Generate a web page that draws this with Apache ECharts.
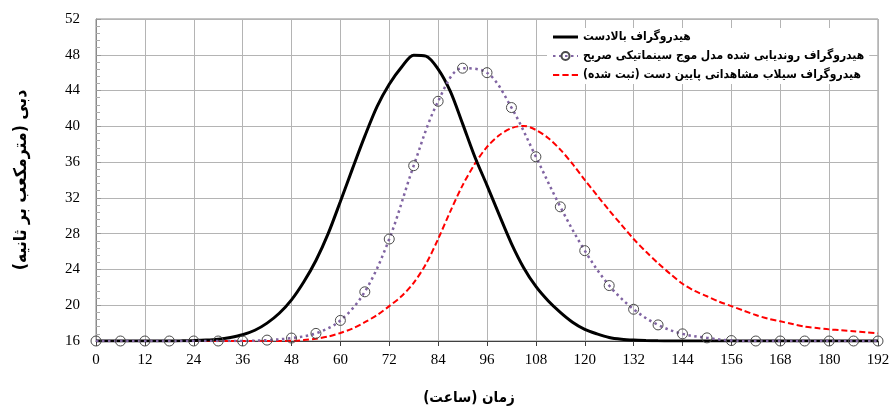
<!DOCTYPE html>
<html>
<head>
<meta charset="utf-8">
<script src="https://cdn.jsdelivr.net/npm/echarts@6/dist/echarts.min.js"></script>
<style>html,body{margin:0;padding:0;background:#fff}#c{width:893px;height:410px}</style>
</head>
<body>
<div id="c"></div>
<script>
const RLM = '\u200F';
const xTicks = [0, 192, 12];
const yTicks = [16, 52, 4];
const seriesNames = [
  'هیدروگراف بالادست',
  'هیدروگراف روندیابی شده مدل موج سینماتیکی صریح',
  'هیدروگراف سیلاب مشاهداتی پایین دست (ثبت شده)'
];
const xName = 'زمان (ساعت)';
const yName = 'دبی (مترمکعب بر ثانیه)';

// upstream hydrograph (black)
const hoursUp = [0,3,6,9,12,15,18,21,24,27,30,33,36,39,42,45,48,51,54,57,60,63,66,69,72,75,78,81,84,87,90,93,96,99,102,105,108,111,114,117,120,123,126,129,132,135,138,141,144,150,156,162,168,174,180,186,192];
const flowUp  = [16,16,16,16,16,16,16.01,16.02,16.05,16.1,16.2,16.4,16.7,17.2,18.0,19.1,20.6,22.6,25.0,28.0,31.6,35.3,38.9,42.2,44.7,46.6,47.95,47.85,46.4,43.9,40.3,36.6,33.4,30.1,26.9,24.2,22.1,20.5,19.2,18.1,17.3,16.8,16.4,16.2,16.1,16.05,16.02,16.01,16,16,16,16,16,16,16,16,16];

// routed hydrograph (purple dotted with markers), every 6 h
const hoursRouted = [0,6,12,18,24,30,36,42,48,54,60,66,72,78,84,90,96,102,108,114,120,126,132,138,144,150,156,162,168,174,180,186,192];
const flowRouted  = [16,16,16,16,16,16,16,16.1,16.33,16.85,18.3,21.5,27.4,35.6,42.8,46.5,46.0,42.1,36.6,31.0,26.1,22.2,19.55,17.8,16.8,16.35,16.05,16,16,16,16,16,16];

// observed downstream hydrograph (red dashed)
const hoursObs = [0,6,12,18,24,30,36,42,45,48,51,54,57,60,63,66,69,72,75,78,81,84,87,90,93,96,99,102,105,108,111,114,117,120,123,126,129,132,135,138,141,144,147,150,153,156,159,162,165,168,171,174,177,180,183,186,189,192];
const flowObs  = [16,16,16,16,16,16,16,16,16.01,16.02,16.1,16.25,16.5,16.9,17.4,18.1,18.9,19.9,21.0,22.5,24.6,27.4,30.5,33.4,35.8,37.7,39.0,39.8,40.05,39.6,38.7,37.4,35.8,34.0,32.3,30.6,29.0,27.4,26.0,24.7,23.5,22.4,21.6,21.0,20.4,19.9,19.4,18.9,18.5,18.2,17.9,17.6,17.45,17.3,17.2,17.1,16.97,16.85];

const pairs = (xs, ys) => xs.map((x, i) => [x, ys[i]]);
const arabicFont = '"DejaVu Sans Condensed", "DejaVu Sans"';
const numFont = 'Liberation Serif';

const chart = echarts.init(document.getElementById('c'), null, {renderer: 'canvas'});
chart.setOption({
  animation: false,
  backgroundColor: '#fff',
  grid: {left: 96, right: 15, top: 19, bottom: 69, show: true, borderColor: '#8a8a8a', borderWidth: 1, outerBoundsMode: 'none', containLabel: false},
  legend: {
    orient: 'vertical', left: 547, top: 28, padding: [3, 5, 3, 5],
    backgroundColor: '#fff', itemWidth: 25, itemHeight: 10, itemGap: 7,
    textStyle: {fontFamily: arabicFont, fontWeight: 'bold', fontSize: 12, color: '#000'},
    data: [
      {name: seriesNames[0], icon: 'path://M0,0H25V3H0Z'},
      {name: seriesNames[1]},
      {name: seriesNames[2], icon: 'path://M0,0H6V2H0ZM9,0H15V2H9ZM18,0H24V2H18Z'}
    ],
    formatter: n => n + RLM
  },
  xAxis: {
    type: 'value', min: xTicks[0], max: xTicks[1], interval: xTicks[2],
    name: xName + RLM, nameLocation: 'middle', nameGap: 50,
    nameTextStyle: {fontFamily: arabicFont, fontWeight: 'bold', fontSize: 15, color: '#000', padding: [0, 36, 0, 0]},
    axisLine: {show: true, lineStyle: {color: '#404040', width: 1}},
    axisTick: {show: true, length: 5, lineStyle: {color: '#404040'}},
    axisLabel: {fontFamily: numFont, fontSize: 15, color: '#000', margin: 12},
    splitLine: {show: true, lineStyle: {color: '#b4b4b4', width: 1}}
  },
  yAxis: {
    type: 'value', min: yTicks[0], max: yTicks[1], interval: yTicks[2],
    name: yName + RLM, nameLocation: 'middle', nameGap: 66, nameRotate: 90,
    nameTextStyle: {fontFamily: arabicFont, fontWeight: 'bold', fontSize: 17.5, color: '#000'},
    axisLine: {show: true, lineStyle: {color: '#8a8a8a', width: 1}},
    axisTick: {show: true, inside: true, length: 5, lineStyle: {color: '#999'}},
    minorTick: {show: true, splitNumber: 5, length: 4, lineStyle: {color: '#aaa'}},
    axisLabel: {fontFamily: numFont, fontSize: 15, color: '#000', margin: 16},
    splitLine: {show: true, lineStyle: {color: '#b4b4b4', width: 1}}
  },
  series: [
    {
      name: seriesNames[0], type: 'line', data: pairs(hoursUp, flowUp),
      smooth: 0.3, showSymbol: false, symbol: 'none', z: 3,
      lineStyle: {color: '#000', width: 3}, itemStyle: {color: '#000'}
    },
    {
      name: seriesNames[1], type: 'line', data: pairs(hoursRouted, flowRouted),
      smooth: 0.35, showSymbol: true, symbol: 'circle', symbolSize: 10, z: 4,
      lineStyle: {color: '#8064A2', width: 2.5, type: [2.5, 3.5]},
      itemStyle: {color: 'rgba(255,255,255,0)', borderColor: '#4a4a4a', borderWidth: 1}
    },
    {
      name: seriesNames[2], type: 'line', data: pairs(hoursObs, flowObs),
      smooth: 0.3, showSymbol: false, symbol: 'none', z: 2,
      lineStyle: {color: '#FF0000', width: 2, type: [6, 3]}, itemStyle: {color: '#FF0000'}
    }
  ]
});
</script>
</body>
</html>
